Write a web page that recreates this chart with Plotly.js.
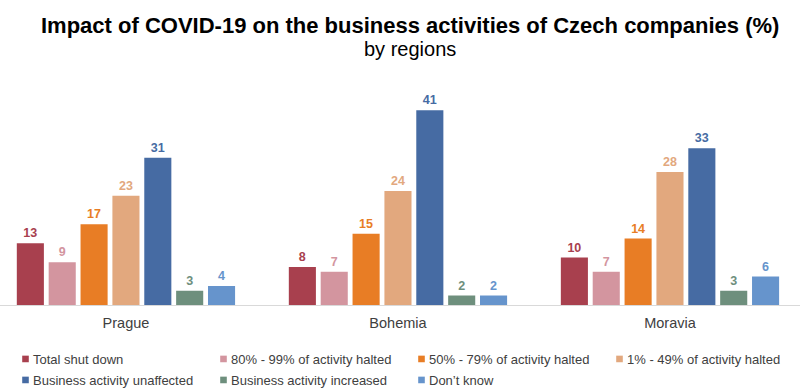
<!DOCTYPE html>
<html>
<head>
<meta charset="utf-8">
<script src="https://cdn.plot.ly/plotly-3.0.1.min.js"></script>
<style>html,body{margin:0;padding:0;background:#fff;}#chart{width:800px;height:390px;}</style>
</head>
<body>
<div id="chart"></div>
<script>
const regions = ["Prague", "Bohemia", "Moravia"];
const seriesNames = ["Total shut down", "80% - 99% of activity halted", "50% - 79% of activity halted", "1% - 49% of activity halted", "Business activity unaffected", "Business activity increased", "Don\u2019t know"];
const totalShutDown = [13, 8, 10];
const halted80to99 = [9, 7, 7];
const halted50to79 = [17, 15, 14];
const halted1to49 = [23, 24, 28];
const unaffected = [31, 41, 33];
const increased = [3, 2, 3];
const dontKnow = [4, 2, 6];
const seriesValues = [totalShutDown, halted80to99, halted50to79, halted1to49, unaffected, increased, dontKnow];
const colors = ["#A8404E", "#D3959F", "#E87D25", "#E2A87E", "#466BA3", "#6E8F7D", "#6694CC"];
const titleText = "Impact of COVID-19 on the business activities of Czech companies (%)";
const subtitleText = "by regions";

const FONT = "Liberation Sans, Arial, sans-serif";
const traces = seriesNames.map((name, i) => ({
  type: "bar",
  name: name,
  x: regions,
  y: seriesValues[i],
  marker: {color: colors[i]},
  text: seriesValues[i].map(String),
  textposition: "outside",
  textfont: {family: FONT, size: 12.5, color: colors[i], weight: "bold"},
  cliponaxis: false,
  hoverinfo: "none",
  legend: i < 4 ? "legend" : "legend2"
}));

const legendCommon = {
  orientation: "h",
  xref: "container", yref: "container",
  xanchor: "left", yanchor: "middle",
  font: {family: FONT, size: 13, color: "#404040"},
  bgcolor: "rgba(0,0,0,0)",
  entrywidth: 153,
  traceorder: "normal",
  itemclick: false
};

const layout = {
  width: 800, height: 390,
  margin: {l: 0, r: 0, t: 90, b: 84.5},
  paper_bgcolor: "#ffffff", plot_bgcolor: "#ffffff",
  font: {family: FONT, color: "#404040"},
  annotations: [
    {text: "<b>" + titleText + "</b>", xref: "paper", yref: "paper", x: 0.5125, y: 1.3016,
     xanchor: "center", yanchor: "middle", showarrow: false,
     font: {family: FONT, size: 22, color: "#000000"}},
    {text: subtitleText, xref: "paper", yref: "paper", x: 0.5125, y: 1.19,
     xanchor: "center", yanchor: "middle", showarrow: false,
     font: {family: FONT, size: 20, color: "#000000"}}
  ],
  barmode: "group",
  bargap: 0.18,
  bargroupgap: 0.15,
  xaxis: {
    range: [-0.463, 2.478],
    showline: true, linecolor: "#d9d9d9", linewidth: 1,
    ticks: "", showgrid: false, zeroline: false,
    tickfont: {family: FONT, size: 14.5, color: "#404040"},
    ticklabelstandoff: 5,
    fixedrange: true
  },
  yaxis: {
    range: [0, 45.27],
    visible: false, showgrid: false, zeroline: false,
    fixedrange: true
  },
  showlegend: true,
  legend: Object.assign({}, legendCommon, {x: 0, y: 1 - 359 / 390}),
  legend2: Object.assign({}, legendCommon, {x: 0, y: 1 - 380 / 390})
};

Plotly.newPlot("chart", traces, layout, {displayModeBar: false, staticPlot: true}).then(() => {
  document.querySelectorAll(".legendpoints").forEach(g => {
    g.setAttribute("transform", "translate(21.5,0) scale(0.55)");
  });
  document.querySelectorAll(".infolayer > g.legend, .infolayer > g.legend2").forEach(g => {
    const t = g.getAttribute("transform") || "";
    const m = t.match(/translate\(\s*([-\d.]+)[ ,]+([-\d.]+)\s*\)/);
    if (m) g.setAttribute("transform", "translate(" + (parseFloat(m[1]) - 7) + "," + m[2] + ")");
  });
});
</script>
</body>
</html>
